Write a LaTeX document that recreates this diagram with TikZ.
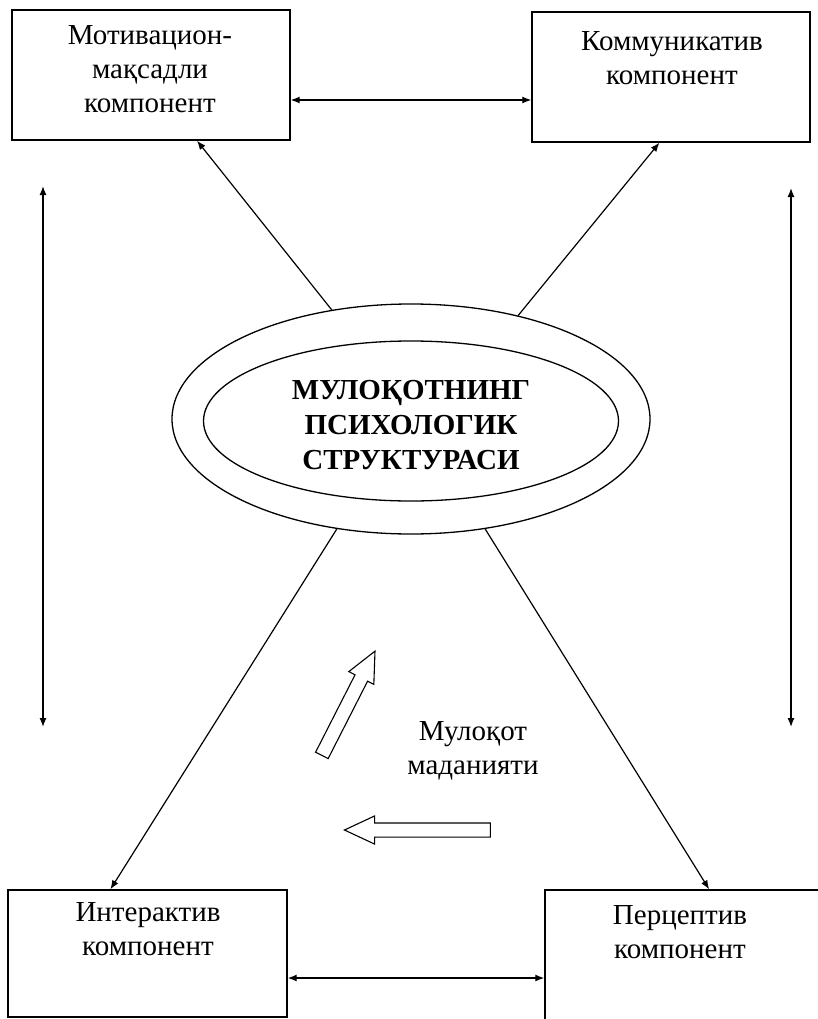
\documentclass[tikz,border=0pt]{standalone}
\usepackage{fontspec}
\setmainfont{Liberation Serif}
\usetikzlibrary{arrows.meta,shapes.geometric,shapes.arrows}

\begin{document}
\begin{tikzpicture}[x=1pt,y=-1pt,
  compbox/.style={draw,line width=1.4pt,minimum width=278pt,minimum height=130pt,inner sep=0pt},
  boxtext/.style={align=center,font=\fontsize{29}{34}\selectfont},
  link/.style={line width=1.2pt,-{Latex[length=9pt,width=7pt]}},
  twoway/.style={line width=1.3pt,{Latex[length=9pt,width=7pt]}-{Latex[length=9pt,width=7pt]}},
  hollow/.style={draw,line width=1.1pt,single arrow,inner sep=6.5pt,single arrow head extend=7pt,single arrow tip angle=50}]
\useasboundingbox (0,0) rectangle (817,1019);
\node[compbox] (mot) at (151,75) {};
\node[boxtext] (motlbl) at (150,69) {Мотивацион-\\мақсадли\\компонент};
\node[compbox] (kom) at (671,77) {};
\node[boxtext] (komlbl) at (672,58) {Коммуникатив\\компонент};
\node[compbox,minimum width=279pt,minimum height=127pt] (int) at (147.5,953.5) {};
\node[boxtext] (intlbl) at (148,929) {Интерактив\\компонент};
\node[compbox,minimum width=285pt,minimum height=140pt] (per) at (687.5,960) {};
\node[boxtext] (perlbl) at (680,932) {Перцептив\\компонент};
\node[draw,ellipse,line width=1.3pt,minimum width=478pt,minimum height=230pt] (core) at (411,419) {};
\node[draw,ellipse,line width=1.3pt,minimum width=415pt,minimum height=160pt] (inner) at (411,421) {};
\node[align=center,font=\bfseries\fontsize{29}{35}\selectfont] (title) at (411,425) {МУЛОҚОТНИНГ\\ПСИХОЛОГИК\\СТРУКТУРАСИ};
\node[boxtext] (culture) at (473,751) {Мулоқот\\маданияти};
\node[hollow,minimum height=117pt,rotate=63] (rise) at (345,710) {};
\node[hollow,minimum height=146pt,rotate=180] (push) at (425,830) {};
\coordinate (ltop) at (43,186);
\coordinate (lbot) at (43,727);
\coordinate (rtop) at (791,188);
\coordinate (rbot) at (791,727);
\draw[link] (core.126) -- (mot.305);
\draw[link] (core.44) -- (kom.260);
\draw[link] (core.236) -- (int.120.6);
\draw[link] (core.304) -- (per.73.7);
\draw[twoway] ([yshift=-25pt]mot.east) -- ([yshift=-23pt]kom.west);
\draw[twoway] ([yshift=-24.5pt]int.east) -- ([yshift=-18pt]per.west);
\draw[twoway] (ltop) -- (lbot);
\draw[twoway] (rtop) -- (rbot);
\end{tikzpicture}
\end{document}
